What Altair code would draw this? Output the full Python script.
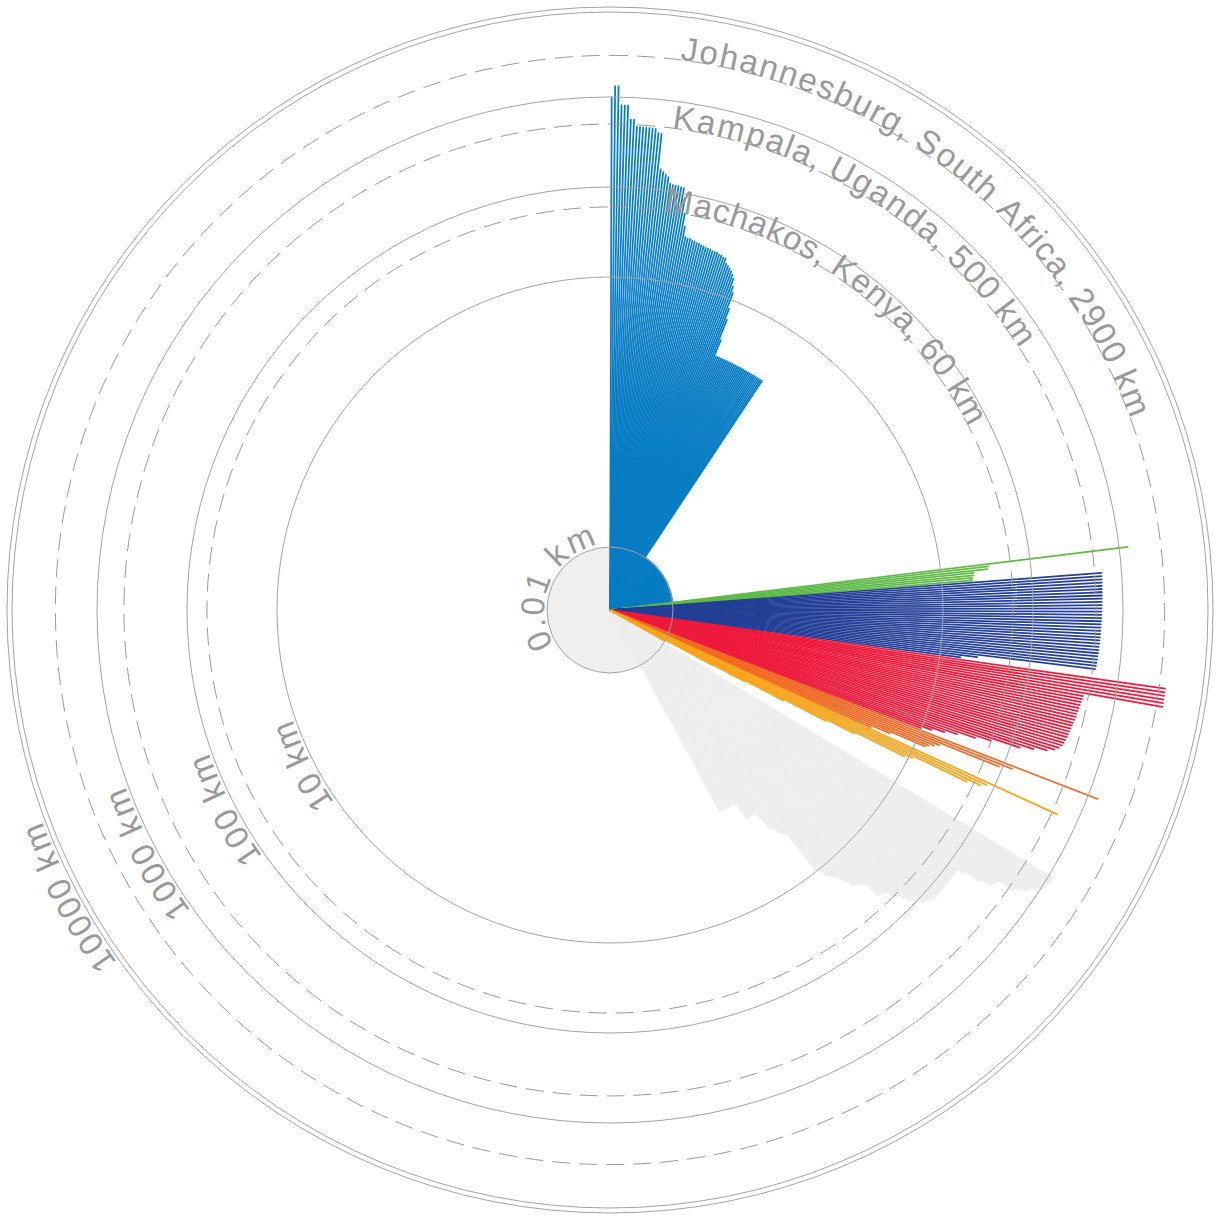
import math
import altair as alt
import pandas as pd

# ---------------- data ----------------
SLOTS = 960  # equal angular slots around the circle, clockwise from 12 o'clock

# bar lengths in km, clockwise inside each group; (value, count) = run of equal bars
BLUE = [1000, 1325, 1325, 815, 815, 815, 570, 570,
        480, 478, 476, 476, 474, 472, 470, 425, 419,
        171, 160, 150, 143, 122, 119, 118, 117, 116, 115,
        90, 61, 44, 34,
        33, 33, 32, 32, 31, 31, 30, 30, 29, 29, 29, 28, 28, 28, 27, 27, 26, 26,
        23, 22, 21, 20, 18.5, 17,
        14, 12, 8, 6, 3.5,
        (2.27, 30),
        (0.01, 131)]
GREEN = [1250, 34, 33, 23, 23, 22, 22]
NAVY = [600, 598, 596, 595, 593, 591, 590, 588, 586, 585, 583, 581, 580, 578, 576, 575,
        573, 571, 570, 568, 566, 564, 562, 560, 558, 556, 553, 550, 548, 545, 540,
        26, 17]
RED = [(3400, 6),
       440, 435, 430, 425, 420, 415, 410, 405, 400, 395, 390, 385, 380, 375, 370, 365, 358, 350,
       330, 300, 250, 180, 128, 60, 40, 25, 18, 13, 10]
DARKORANGE = [1290, 128, 92, 18, 16, 14, 13, 5, 3]
ORANGE = [580, 82, 72, 50, 11, 9, 2.2, 1.0, 0.3, 0.1, 0.04, (0.01, 3)]
EMPTY_BEFORE_GREY = 4
GREY = [1150, 1150, 1100, 1100, 1050, 900, 820, 780, 650, 585, 360, 350, 330, 250, 160,
        (133, 14),
        125, 120, 115, 110, 100, 85, 75, 65, 58, 50, 48, 46, 45, 30, 28, 26, 25, 24, 20, 18,
        16, 15, 14, 13, 11, 10,
        3.0, 2.8, 2.6, 2.3, 2.1, 2.0, 1.4, (1.2, 7), 0.75, (0.72, 8), (0.7, 3)]

GROUP_NAMES = ["blue", "green", "navy", "red", "darkorange", "orange"]
GROUP_COLORS = ["#087dc3", "#5fba47", "#233f96", "#ee1b3d", "#f26a24", "#f9a51c"]
GREY_COLOR = "#eeeeee"

SOLID_RINGS = [0.01, 10, 100, 1000, 10000]
DASHED_RINGS = [60, 500, 2900]

# label text, ring value (km), angle of first / last character (deg, clockwise from top)
RING_LABELS = [("0.01 km", 0.01, 246.3, 337.3),
               ("10 km", 10, 236.7, 248.7),
               ("100 km", 100, 235.9, 248.6),
               ("1000 km", 1000, 235.4, 248.5),
               ("10000 km", 10000, 235.3, 248.3)]
CITY_LABELS = [("Machakos, Kenya, 60 km", 60, 9.6, 61.0),
               ("Kampala, Uganda, 500 km", 500, 8.6, 55.8),
               ("Johannesburg, South Africa, 2900 km", 2900, 8.1, 68.4)]

# relative glyph advances (Arial metrics) used to spread characters along an arc
ADV = {'J': 500, 'o': 556, 'h': 556, 'a': 556, 'n': 556, 'e': 556, 's': 500, 'b': 556,
       'u': 556, 'r': 333, 'g': 556, ',': 278, ' ': 278, 'S': 667, 't': 278, 'A': 667,
       'f': 278, 'i': 222, 'c': 500, '2': 556, '9': 556, '0': 556, 'k': 500, 'm': 833,
       'K': 667, 'p': 556, 'l': 222, 'U': 722, 'd': 556, '5': 556, 'M': 833, 'y': 500,
       '6': 556, '.': 278, '1': 556}


def expand(items):
    out = []
    for it in items:
        if isinstance(it, tuple):
            out.extend([it[0]] * it[1])
        else:
            out.append(it)
    return out


# ---------------- tables ----------------
bar_rows = []
slot = 0
for name, items in zip(GROUP_NAMES, [BLUE, GREEN, NAVY, RED, DARKORANGE, ORANGE]):
    for km in expand(items):
        bar_rows.append({"slot": slot, "km": km, "group": name})
        slot += 1
bars_df = pd.DataFrame(bar_rows)

slot += EMPTY_BEFORE_GREY
grey_rows = []
for km in expand(GREY):
    grey_rows.append({"slot": slot, "km": km})
    slot += 1
grey_df = pd.DataFrame(grey_rows)

disk_df = pd.DataFrame({"km": [0.01], "t0": [0], "t1": [360]})
solid_df = pd.DataFrame({"km": SOLID_RINGS, "t0": 0, "t1": 360})
outer_df = pd.DataFrame({"km": [SOLID_RINGS[-1]], "t0": [0], "t1": [360]})
dashed_df = pd.DataFrame({"km": DASHED_RINGS, "t0": 0, "t1": 360})


def char_rows(labels):
    rows = []
    for text, km, a0, a1 in labels:
        centers, acc = [], 0
        for ch in text:
            w = ADV.get(ch, 556)
            centers.append(acc + w / 2)
            acc += w
        c0, c1 = centers[0], centers[-1]
        for ch, c in zip(text, centers):
            if ch == " ":
                continue
            rows.append({"ch": ch, "km": km, "ang": a0 + (c - c0) / (c1 - c0) * (a1 - a0)})
    return pd.DataFrame(rows)


ring_chars = char_rows(RING_LABELS)
city_chars = char_rows(CITY_LABELS)

# ---------------- scales ----------------
theta_scale = alt.Scale(domain=[0, 360], range=[0, 2 * math.pi])
r_scale = alt.Scale(type="log", domain=[0.01, 10000], range=[63, 603], clamp=True)
c_scale = alt.Scale(domain=GROUP_NAMES, range=GROUP_COLORS)


def ring_enc():
    return dict(theta=alt.Theta("t0:Q", scale=theta_scale, stack=False),
                theta2="t1:Q",
                radius=alt.Radius("km:Q", scale=r_scale),
                radius2=alt.value(0))


disk = alt.Chart(disk_df).mark_arc(fill="#efefef").encode(**ring_enc())

grey = alt.Chart(grey_df).transform_calculate(
    t0=f"datum.slot * 360 / {SLOTS}",
    t1=f"(datum.slot + 1) * 360 / {SLOTS}",
).mark_arc(fill=GREY_COLOR, stroke=GREY_COLOR, strokeWidth=0.6).encode(**ring_enc())

colored = alt.Chart(bars_df).transform_calculate(
    t0=f"(datum.slot + 0.5) * 360 / {SLOTS} - 0.01",
    t1=f"(datum.slot + 0.5) * 360 / {SLOTS} + 0.01",
).mark_arc(strokeWidth=1.6, strokeJoin="bevel").encode(
    fill=alt.Fill("group:N", scale=c_scale, legend=None),
    stroke=alt.Stroke("group:N", scale=c_scale, legend=None),
    **ring_enc(),
)

solid = alt.Chart(solid_df).mark_arc(filled=False, stroke="#a3a3a3", strokeWidth=1).encode(**ring_enc())
outer = alt.Chart(outer_df).mark_arc(filled=False, stroke="#a3a3a3", strokeWidth=1,
                                     radiusOffset=-5).encode(**ring_enc())
dashed = alt.Chart(dashed_df).mark_arc(filled=False, stroke="#9a9a9a", strokeWidth=1,
                                       strokeDash=[18, 9]).encode(**ring_enc())


def text_layer(df, dy):
    return alt.Chart(df).mark_text(
        font="Liberation Sans", fontSize=33, color="#999999",
        align="center", baseline="alphabetic", dy=dy,
    ).encode(
        theta=alt.Theta("ang:Q", scale=theta_scale),
        radius=alt.Radius("km:Q", scale=r_scale),
        text="ch:N",
        angle=alt.Angle("ang:Q", scale=None),
    )


chart = alt.layer(
    disk, grey, colored, solid, outer, dashed,
    text_layer(ring_chars, -3), text_layer(city_chars, 0),
).properties(
    width=1220, height=1220, padding=0,
    autosize=alt.AutoSizeParams(type="none"),
    background="white",
).configure_view(strokeWidth=0)

chart.save("out.html", embed_options={"renderer": "svg", "actions": False})
